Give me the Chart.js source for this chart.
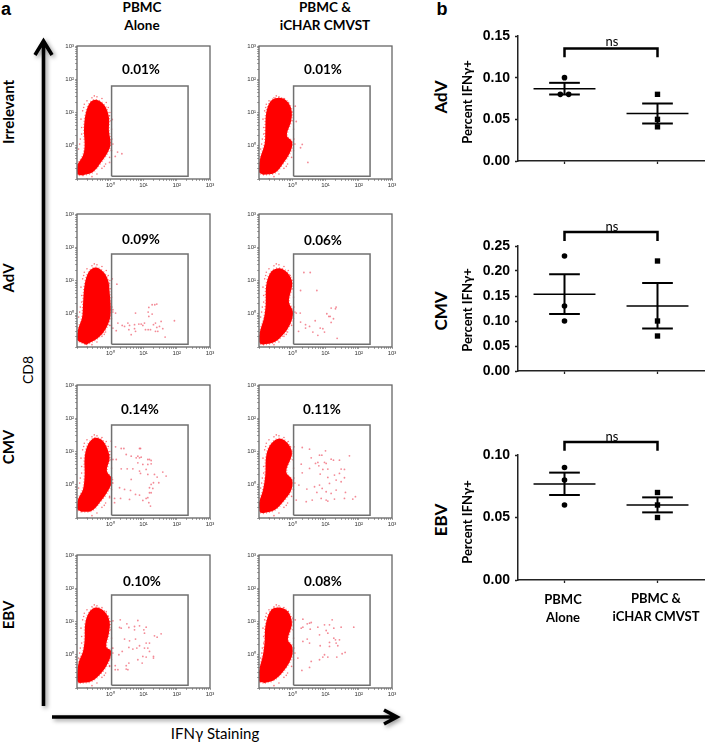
<!DOCTYPE html>
<html>
<head>
<meta charset="utf-8">
<title>IFN-gamma staining</title>
<script src="https://cdn.jsdelivr.net/npm/chart.js@4"></script>
<style>
  html, body { margin: 0; padding: 0; background: #fff; }
  #page { position: relative; width: 709px; height: 743px; overflow: hidden; }
  #page canvas { position: absolute; }
  .lbl { position: absolute; white-space: nowrap; color: #000; font-family: Lato, sans-serif; font-weight: 700; transform: translate(-50%, -50%); line-height: 1; }
  .flow { filter: blur(0.35px); }
  svg { position: absolute; left: 0; top: 0; }
</style>
</head>
<body>
<div id="page">
  <svg width="709" height="743" style="filter: drop-shadow(2px 2px 2px rgba(0,0,0,.4))">
    <path d="M43.5 706 L43.5 41 M35 55 L43.5 41 L52 55" fill="none" stroke="#000" stroke-width="3.6"/>
    <path d="M52 717 L396 717 M384 710 L397 717 L384 724" fill="none" stroke="#000" stroke-width="3.6"/>
  </svg>
</div>
<script>
// ---- panel a: values are log10 of the fluorescence
const flowDecades = [0, 1, 2, 3];
const flowPercents = ['0.01%', '0.09%', '0.14%', '0.10%', '0.01%', '0.06%', '0.11%', '0.08%'];
const gateOutline = [[0.04, -0.92], [2.34, -0.92], [2.34, 1.80], [0.04, 1.80], [0.04, -0.92]];
// stray events around the edge of the dense population
const blobFringe = [[-0.86,0.55],[-0.88,0.80],[-0.83,1.05],[-0.90,0.20],[-0.92,0.05],[-0.95,-0.10],[-0.86,0.35],[-0.80,1.15],[-0.70,1.35],[-0.55,1.44],[-0.40,1.47],[-0.25,1.42],[-0.12,1.30],[-0.06,1.15],[-0.01,1.00],[0.02,0.75],[0.04,0.50],[0.05,0.20],[0.08,0.05],[0.04,-0.15],[-0.02,-0.35],[-0.14,-0.55],[-0.25,-0.68],[-0.40,-0.85],[-0.55,-0.93],[-0.70,-1.00],[-0.78,1.25],[-0.48,1.50],[-0.02,0.90],[-0.18,-0.62]];

const irrAloneBlob = [[-0.82,-0.89],[-0.52,-0.79],[-0.27,-0.49],[-0.07,-0.19],[0.01,0.06],[-0.04,0.46],[-0.04,0.86],[-0.17,1.21],[-0.42,1.38],[-0.60,1.31],[-0.74,0.96],[-0.79,0.46],[-0.77,0.01],[-0.82,-0.29],[-0.99,-0.59],[-0.99,-0.86],[-0.82,-0.89]];
const irrAloneEvents = [[0.06,0.79],[0.22,-0.19],[0.35,-0.24],[0.15,-0.32],[0.03,-0.14],[-0.02,-0.50]];

const advAloneBlob = [[-0.72,-0.93],[-0.37,-0.73],[-0.12,-0.43],[0.01,-0.03],[-0.02,0.67],[-0.07,1.02],[-0.22,1.27],[-0.44,1.39],[-0.64,1.27],[-0.77,0.87],[-0.82,0.27],[-0.85,-0.13],[-0.97,-0.48],[-0.99,-0.78],[-0.72,-0.93]];
const advAloneEvents = [[0.06,1.05],[0.20,0.89],[0.08,0.12],[0.16,0.02],[0.23,-0.28],[0.03,-0.35],[0.08,-0.43],[0.18,-0.51],[0.36,-0.35],[0.43,-0.38],[0.53,-0.28],[0.58,-0.35],[0.56,-0.48],[0.63,-0.63],[0.73,-0.33],[0.73,-0.45],[0.76,-0.53],[0.76,0.02],[0.86,-0.31],[0.93,-0.31],[0.98,-0.35],[1.03,-0.28],[1.06,-0.48],[1.14,-0.48],[1.21,-0.48],[1.14,0.05],[1.16,0.19],[1.16,-0.08],[1.26,0.27],[1.26,-0.01],[1.34,0.27],[1.40,0.29],[1.30,-0.33],[1.36,-0.28],[1.40,-0.41],[1.48,-0.38],[1.36,-0.53],[1.43,-0.53],[1.53,-0.23],[1.58,-0.45],[1.65,-0.70],[1.93,-0.21]];

const cmvAloneBlob = [[-0.87,-0.81],[-0.57,-0.79],[-0.32,-0.54],[-0.07,-0.19],[0.06,0.16],[-0.10,0.41],[-0.02,0.81],[-0.12,1.16],[-0.27,1.36],[-0.47,1.41],[-0.67,1.21],[-0.77,0.81],[-0.77,0.31],[-0.82,-0.14],[-0.97,-0.44],[-0.99,-0.74],[-0.87,-0.81]];
const cmvAloneEvents = [[0.03,1.31],[0.16,1.14],[0.33,1.09],[0.41,1.09],[0.08,0.76],[0.18,0.76],[0.33,0.48],[0.51,0.48],[0.48,0.91],[0.63,0.86],[0.68,0.48],[0.63,0.16],[0.78,0.81],[0.83,0.86],[0.88,1.09],[0.91,1.09],[0.83,0.66],[0.88,0.81],[0.93,0.83],[0.98,0.61],[0.88,0.41],[0.91,0.34],[1.08,0.46],[1.13,0.76],[1.18,0.76],[1.23,0.73],[1.13,0.61],[1.23,0.63],[1.13,0.31],[1.33,0.31],[1.41,0.23],[1.58,0.38],[1.68,0.26],[1.30,0.06],[1.46,0.06],[1.23,0.01],[1.18,-0.09],[1.28,-0.11],[0.28,-0.09],[0.43,-0.14],[0.61,-0.17],[0.76,-0.29],[0.88,-0.31],[0.13,-0.41],[0.31,-0.41],[0.58,-0.44],[0.98,-0.47],[1.08,-0.41],[1.13,-0.39],[1.16,-0.54],[1.21,-0.64],[-0.02,-0.39],[0.13,-0.54],[1.18,-0.24],[1.23,-0.24]];

const ebvAloneBlob = [[-0.92,-0.85],[-0.57,-0.80],[-0.27,-0.55],[-0.07,-0.25],[0.03,0.10],[-0.12,0.25],[-0.04,0.65],[-0.02,1.00],[-0.17,1.30],[-0.42,1.42],[-0.62,1.30],[-0.75,0.95],[-0.77,0.45],[-0.82,0.10],[-0.94,-0.20],[-0.99,-0.50],[-0.99,-0.80],[-0.92,-0.85]];
const ebvAloneEvents = [[0.08,1.02],[0.30,1.05],[0.28,0.82],[0.33,0.80],[0.50,0.93],[0.56,0.82],[0.73,0.85],[0.73,0.75],[0.83,1.03],[0.88,0.87],[1.01,0.75],[1.08,0.83],[1.03,0.65],[1.33,0.57],[1.41,0.53],[1.53,0.63],[0.43,0.47],[0.58,0.42],[0.76,0.47],[0.88,0.27],[1.08,0.35],[1.18,0.35],[1.03,0.20],[1.13,0.20],[1.18,0.10],[0.56,0.22],[0.68,0.17],[0.80,0.20],[0.36,0.10],[0.26,0.00],[0.08,0.20],[-0.02,-0.33],[0.15,-0.33],[0.15,-0.45],[0.23,-0.45],[0.48,-0.33],[0.56,-0.25],[0.48,-0.43],[0.53,-0.45],[0.83,-0.15],[0.96,-0.25],[0.98,-0.05],[1.08,-0.07],[1.30,-0.05],[1.30,-0.10]];

const irrCtlBlob = [[-0.88,-0.87],[-0.53,-0.82],[-0.28,-0.54],[-0.06,-0.19],[0,0.11],[-0.16,0.31],[-0.03,0.76],[-0.03,1.11],[-0.18,1.36],[-0.38,1.44],[-0.63,1.36],[-0.78,1.01],[-0.81,0.46],[-0.83,0.06],[-0.98,-0.44],[-1.0,-0.79],[-0.88,-0.87]];
const irrCtlEvents = [[0.09,1.19],[0.12,0.73],[0.30,0.04],[0.25,-0.06],[0.47,-0.50]];

const advCtlBlob = [[-0.88,-0.93],[-0.53,-0.85],[-0.23,-0.58],[-0.03,-0.23],[0.02,0.07],[-0.10,0.37],[0,0.92],[-0.13,1.22],[-0.38,1.37],[-0.63,1.27],[-0.78,0.87],[-0.80,0.27],[-0.85,-0.13],[-0.98,-0.58],[-0.98,-0.88],[-0.88,-0.93]];
const advCtlEvents = [[0.35,1.24],[0.54,1.24],[0.25,0.70],[0.74,0.70],[0.12,0.02],[0.24,0.02],[0.25,-0.25],[0.19,-0.53],[0.40,-0.33],[0.52,-0.38],[0.40,-0.43],[0.62,-0.55],[0.69,-0.21],[0.84,-0.43],[0.92,-0.45],[0.97,-0.55],[0.77,-0.65],[1.04,0.00],[1.10,-0.08],[1.14,-0.08],[1.17,0.17],[1.30,0.15],[1.32,0.20],[1.24,-0.15],[1.17,-0.26],[1.35,-0.74]];

const cmvCtlBlob = [[-0.88,-0.86],[-0.53,-0.76],[-0.23,-0.46],[-0.03,-0.16],[0,0.14],[-0.18,0.39],[-0.01,0.94],[-0.13,1.24],[-0.38,1.39],[-0.63,1.24],[-0.78,0.89],[-0.81,0.29],[-0.88,-0.16],[-1.0,-0.56],[-0.98,-0.81],[-0.88,-0.86]];
const cmvCtlEvents = [[0.05,1.14],[0.30,1.12],[0.52,1.07],[1.00,1.02],[0.57,0.81],[0.82,0.89],[0.89,0.89],[1.72,0.87],[0.27,0.62],[0.52,0.49],[0.70,0.64],[0.77,0.67],[0.80,0.57],[0.97,0.67],[1.02,0.64],[1.17,0.77],[1.24,0.74],[1.42,0.74],[1.47,0.47],[1.57,0.46],[0.30,0.36],[0.84,0.32],[1.07,0.47],[0.92,0.46],[1.07,0.22],[1.27,0.29],[1.42,0.34],[1.32,0.14],[1.47,0.09],[1.57,0.21],[0.20,-0.01],[0.44,-0.13],[0.67,-0.06],[0.82,-0.01],[0.90,-0.11],[1.12,0.04],[1.32,-0.16],[0.74,-0.23],[1.02,-0.21],[1.17,-0.26],[1.60,-0.23],[0.42,-0.51],[0.60,-0.46],[0.12,-0.46],[0.87,-0.41],[1.02,-0.46],[1.07,-0.49],[1.27,-0.43],[1.57,-0.41],[1.82,-0.43],[1.90,-0.36]];

const ebvCtlBlob = [[-0.83,-0.85],[-0.53,-0.75],[-0.23,-0.45],[-0.01,-0.05],[0,0.25],[-0.13,0.45],[-0.01,0.95],[-0.13,1.30],[-0.38,1.42],[-0.63,1.35],[-0.80,0.90],[-0.83,0.40],[-0.88,0.00],[-1.0,-0.50],[-1.0,-0.80],[-0.83,-0.85]];
const ebvCtlEvents = [[0.02,1.10],[0.09,1.05],[0.32,1.07],[0.45,0.93],[0.52,0.95],[0.57,0.97],[0.27,0.80],[0.32,0.83],[0.54,0.77],[0.77,0.83],[0.97,0.90],[1.12,0.90],[1.20,1.05],[1.02,0.73],[1.25,0.80],[1.47,0.83],[1.85,0.83],[0.82,0.60],[1.07,0.65],[0.45,0.47],[0.32,0.40],[0.52,0.35],[0.84,0.27],[1.12,0.37],[1.25,0.50],[1.30,0.45],[1.42,0.45],[1.32,0.35],[1.37,0.27],[1.12,0.25],[0.97,0.00],[1.07,-0.07],[0.92,-0.07],[0.82,-0.15],[1.34,-0.07],[1.50,0.03],[1.59,0.07],[0.17,-0.10],[0.57,-0.20],[0.52,-0.38],[0.29,-0.47]];

// ---- panel b
const groups = ['PBMC\nAlone', 'PBMC &\niCHAR CMVST'];

const advAlone = [0.10, 0.08, 0.08];
const advAloneX = [1, 0.955, 1.045];
const advCtl = [0.08, 0.05, 0.041];
const advMeans = [0.0866, 0.057];
const advUpper = [0.0938, 0.069];
const advLower = [0.0798, 0.045];
const advTicks = [0, 0.05, 0.10, 0.15];
const advBracket = [0.1245, 0.135];

const cmvAlone = [0.23, 0.13, 0.10];
const cmvCtl = [0.22, 0.10, 0.07];
const cmvMeans = [0.1536, 0.13];
const cmvUpper = [0.1935, 0.176];
const cmvLower = [0.114, 0.085];
const cmvTicks = [0, 0.05, 0.10, 0.15, 0.20, 0.25];
const cmvBracket = [0.26, 0.278];

const ebvAlone = [0.09, 0.08, 0.06];
const ebvCtl = [0.07, 0.06, 0.05];
const ebvMeans = [0.0768, 0.06];
const ebvUpper = [0.0859, 0.0661];
const ebvLower = [0.068, 0.0541];
const ebvTicks = [0, 0.05, 0.10];
const ebvBracket = [0.1034, 0.1104];

const page = document.getElementById('page');
Chart.defaults.animation = false;
Chart.defaults.responsive = false;
Chart.defaults.maintainAspectRatio = false;
Chart.defaults.events = [];

function label(text, x, y, size, opts = {}) {
  const el = document.createElement('div');
  el.className = 'lbl';
  el.textContent = text;
  el.style.left = x + 'px';
  el.style.top = y + 'px';
  el.style.fontSize = size + 'px';
  if (opts.font) el.style.fontFamily = opts.font;
  if (opts.weight) el.style.fontWeight = opts.weight;
  if (opts.rotate) el.style.transform = 'translate(-50%, -50%) rotate(-90deg)';
  page.appendChild(el);
}

function makeCanvas(area, m, cls) {
  const c = document.createElement('canvas');
  c.width = m.left + area.w + m.right;
  c.height = m.top + area.h + m.bottom;
  c.style.left = (area.x - m.left) + 'px';
  c.style.top = (area.y - m.top) + 'px';
  if (cls) c.className = cls;
  page.appendChild(c);
  return c;
}

const pts = (arr) => arr.map(p => ({ x: p[0], y: p[1] }));

const flowFrame = {
  id: 'flowFrame',
  afterDraw(chart) {
    const { ctx, chartArea: a } = chart;
    ctx.save();
    ctx.strokeStyle = '#666';
    ctx.lineWidth = 1.3;
    ctx.strokeRect(a.left, a.top, a.right - a.left, a.bottom - a.top);
    ctx.restore();
  }
};

function flowAxis(margin) {
  return {
    type: 'linear',
    min: -1,
    max: 3,
    afterBuildTicks(axis) {
      const t = [];
      for (let d = -1; d < 3; d++) {
        for (let k = 1; k < 10; k++) t.push({ value: d + Math.log10(k) });
      }
      t.push({ value: 3 });
      axis.ticks = t;
    },
    afterFit(axis) {
      if (axis.axis === 'x') axis.height = margin; else axis.width = margin;
    },
    ticks: {
      autoSkip: false,
      maxRotation: 0,
      padding: 1,
      color: '#333',
      font: { family: 'Liberation Sans', size: 6 },
      callback(v) {
        const i = flowDecades.indexOf(v);
        return i >= 0 ? '10' + '\u2070\u00b9\u00b2\u00b3'[i] : '';
      }
    },
    grid: { drawOnChartArea: false, tickLength: 2, tickColor: '#666', tickWidth: 0.6 },
    border: { display: false }
  };
}

function flowPlot(x, y, blob, events) {
  const m = { left: 24, right: 8, top: 6, bottom: 16 };
  const c = makeCanvas({ x, y, w: 133, h: 133 }, m, 'flow');
  new Chart(c, {
    type: 'scatter',
    data: {
      datasets: [
        { data: pts(gateOutline), showLine: true, borderColor: '#707070', borderWidth: 1.5, pointRadius: 0 },
        { data: pts(blob), showLine: true, fill: 'shape', tension: 0.35, backgroundColor: '#ff0000',
          borderColor: 'rgba(255,20,20,.5)', borderWidth: 2, borderDash: [1, 2], pointRadius: 0 },
        { data: pts(blobFringe), backgroundColor: 'rgba(240,30,40,.6)', borderWidth: 0, pointRadius: 0.8 },
        { data: pts(events), backgroundColor: 'rgba(235,60,80,.6)', borderWidth: 0, pointRadius: 0.9 }
      ]
    },
    options: {
      layout: { padding: { top: m.top, right: m.right } },
      plugins: { legend: { display: false }, tooltip: { enabled: false } },
      scales: { x: flowAxis(m.bottom), y: flowAxis(m.left) }
    },
    plugins: [flowFrame]
  });
}

const colX = [77, 259];
const rowY = [46, 214, 385, 555];
flowPlot(colX[0], rowY[0], irrAloneBlob, irrAloneEvents);
flowPlot(colX[0], rowY[1], advAloneBlob, advAloneEvents);
flowPlot(colX[0], rowY[2], cmvAloneBlob, cmvAloneEvents);
flowPlot(colX[0], rowY[3], ebvAloneBlob, ebvAloneEvents);
flowPlot(colX[1], rowY[0], irrCtlBlob, irrCtlEvents);
flowPlot(colX[1], rowY[1], advCtlBlob, advCtlEvents);
flowPlot(colX[1], rowY[2], cmvCtlBlob, cmvCtlEvents);
flowPlot(colX[1], rowY[3], ebvCtlBlob, ebvCtlEvents);

function segment(x0, y0, x1, y1, width) {
  return { data: [{ x: x0, y: y0 }, { x: x1, y: y1 }], showLine: true, borderColor: '#000',
    borderWidth: width, pointRadius: 0, clip: false };
}

function summaryPlot(y, h, yMax, tickVals, alone, aloneX, ctl, means, upper, lower, bracket) {
  const m = { left: 50, right: 2, top: 24, bottom: 16 };
  const c = makeCanvas({ x: 518, y, w: 188, h }, m);
  const datasets = [];
  [0, 1].forEach(i => {
    const cx = i + 1;
    datasets.push(segment(cx - 0.333, means[i], cx + 0.333, means[i], 1.5));
    datasets.push(segment(cx - 0.165, upper[i], cx + 0.165, upper[i], 2));
    datasets.push(segment(cx - 0.165, lower[i], cx + 0.165, lower[i], 2));
    datasets.push(segment(cx, lower[i], cx, upper[i], 2));
  });
  datasets.push({ data: alone.map((v, i) => ({ x: aloneX[i], y: v })), pointStyle: 'circle',
    pointRadius: 2.8, backgroundColor: '#000', borderWidth: 0, clip: false });
  datasets.push({ data: ctl.map(v => ({ x: 2, y: v })), pointStyle: 'rect',
    pointRadius: 3.8, backgroundColor: '#000', borderWidth: 0, clip: false });
  datasets.push({ data: [{ x: 1, y: bracket[0] }, { x: 1, y: bracket[1] }, { x: 2, y: bracket[1] }, { x: 2, y: bracket[0] }],
    showLine: true, borderColor: '#000', borderWidth: 2.5, pointRadius: 0, clip: false, borderJoinStyle: 'miter' });

  new Chart(c, {
    type: 'scatter',
    data: { datasets },
    options: {
      layout: { padding: { top: m.top, right: m.right } },
      plugins: { legend: { display: false }, tooltip: { enabled: false } },
      scales: {
        x: {
          type: 'linear', min: 0.5, max: 2.5,
          afterBuildTicks(axis) { axis.ticks = [{ value: 1 }, { value: 2 }]; },
          afterFit(axis) { axis.height = m.bottom; },
          ticks: { display: false },
          grid: { drawOnChartArea: false, tickLength: 3, tickColor: '#222', tickWidth: 1.3 },
          border: { color: '#222', width: 1.5 }
        },
        y: {
          type: 'linear', min: 0, max: yMax,
          afterBuildTicks(axis) { axis.ticks = tickVals.map(v => ({ value: v })); },
          afterFit(axis) { axis.width = m.left; },
          ticks: { autoSkip: false, padding: 5, color: '#000', font: { family: 'Liberation Sans', weight: 'bold', size: 14 },
            callback: v => v.toFixed(2) },
          grid: { drawOnChartArea: false, tickLength: 3, tickColor: '#222', tickWidth: 1.3 },
          border: { color: '#222', width: 1.5 }
        }
      }
    }
  });
}

summaryPlot(36, 125, 0.15, advTicks, advAlone, advAloneX, advCtl, advMeans, advUpper, advLower, advBracket);
summaryPlot(246, 125, 0.25, cmvTicks, cmvAlone, [1, 1, 1], cmvCtl, cmvMeans, cmvUpper, cmvLower, cmvBracket);
summaryPlot(455, 125, 0.10, ebvTicks, ebvAlone, [1, 1, 1], ebvCtl, ebvMeans, ebvUpper, ebvLower, ebvBracket);

// ---- text
label('a', 6, 9, 18, { font: 'Liberation Sans' });
label('b', 442, 9, 18, { font: 'Liberation Sans' });

const headCenters = [142, 325];
groups.forEach((g, i) => {
  const [l1, l2] = g.split('\n');
  label(l1, headCenters[i], 8, 13.5);
  label(l2, headCenters[i], 26, 13.5);
});

const rowNames = ['Irrelevant', 'AdV', 'CMV', 'EBV'];
const rowCenters = [112, 278, 447, 615];
rowNames.forEach((n, i) => label(n, 8, rowCenters[i], 15, { rotate: true }));

const percentX = [141, 141, 140, 142, 323, 323, 322, 323];
const percentY = [70, 240, 410, 582, 70, 241, 410, 582];
flowPercents.forEach((p, i) => label(p, percentX[i], percentY[i], 13.5));

label('CD8', 28, 370, 14, { weight: 400, rotate: true });
label('IFN\u03b3 Staining', 215, 733, 15, { weight: 400 });

const sideY = [97, 311, 520];
['AdV', 'CMV', 'EBV'].forEach((n, i) => label(n, 440, sideY[i], 17, { rotate: true }));
const percentSideY = [102, 310, 522];
percentSideY.forEach(y => label('Percent IFN\u03b3+', 467, y, 13, { rotate: true }));

const nsY = [41, 226, 436];
nsY.forEach(y => label('ns', 612, y, 13, { weight: 400 }));

const bottomX = [563, 656];
const bottomY = [599, 598];
groups.forEach((g, i) => {
  const [l1, l2] = g.split('\n');
  label(l1, bottomX[i], bottomY[i], 13);
  label(l2, bottomX[i], bottomY[i] + 18, 13);
});
</script>
</body>
</html>
